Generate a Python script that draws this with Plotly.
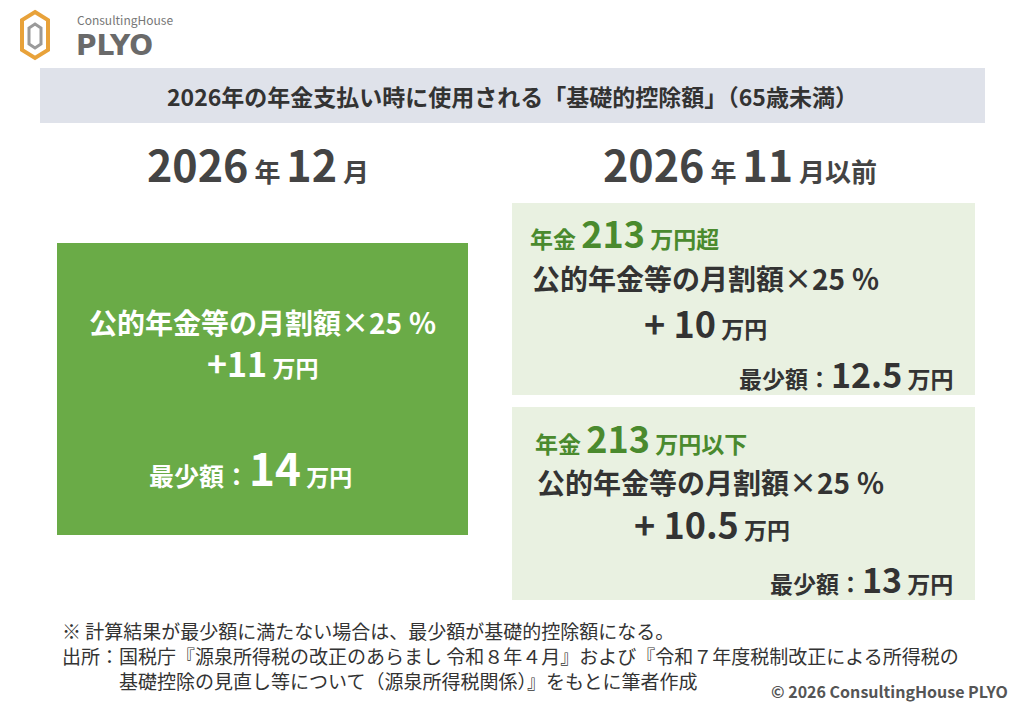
import plotly.graph_objects as go

title = "2026年の年金支払い時に使用される「基礎的控除額」（65歳未満）"
left_head = ("2026", "12")
right_head = ("2026", "11")
rate = "25"
left_add, left_min = "11", "14"
top_thr, top_add, top_min = "213", "10", "12.5"
bot_thr, bot_add, bot_min = "213", "10.5", "13"
note1 = "※ 計算結果が最少額に満たない場合は、最少額が基礎的控除額になる。"
note2 = "出所：国税庁『源泉所得税の改正のあらまし 令和８年４月』および『令和７年度税制改正による所得税の"
note3 = "基礎控除の見直し等について（源泉所得税関係）』をもとに筆者作成"
copy = "© 2026 ConsultingHouse PLYO"

F = "Noto Sans CJK JP"
DARK = "#333333"
GREEN = "#6aab47"
DGREEN = "#4a8a2e"
LBOX = "#e9f1e1"

fig = go.Figure()
shapes = [
    dict(type="rect", x0=40, x1=985, y0=68, y1=123, fillcolor="#dfe2ea", line_width=0),
    dict(type="rect", x0=57, x1=468, y0=243, y1=535, fillcolor=GREEN, line_width=0),
    dict(type="rect", x0=512, x1=975, y0=203, y1=395, fillcolor=LBOX, line_width=0),
    dict(type="rect", x0=512, x1=975, y0=407, y1=600, fillcolor=LBOX, line_width=0),
    dict(type="path", path="M35,12 L48,20 L48,50 L35,58 L22,50 L22,20 Z", fillcolor="rgba(0,0,0,0)",
         line=dict(color="#e8a23a", width=4)),
    dict(type="path", path="M35,24 L41,28 L41,44 L35,48 L29,44 L29,28 Z", fillcolor="rgba(0,0,0,0)",
         line=dict(color="#9a9a9a", width=3)),
]
anns = []
def A(x, y, t, size, color=DARK, anchor="center", align="center"):
    anns.append(dict(x=x, y=y, text=t, showarrow=False, xanchor=anchor, yanchor="middle", align=align,
                     font=dict(family=F, size=size, color=color)))
def s(t, sz): return f"<span style='font-size:{sz}px'>{t}</span>"

A(75, 19, "ConsultingHouse", 12, "#777777", "left")
anns.append(dict(x=74, y=45, text="<b>PLYO</b>", showarrow=False, xanchor="left", yanchor="middle",
                 font=dict(family="DejaVu Sans", size=28, color="#6a6a6a")))
A(512, 96, f"<b>{title}</b>", 23)
A(258, 163, f"<b>{left_head[0]}{s(' 年 ',26)}{left_head[1]}{s(' 月',26)}</b>", 43, "#444444")
A(740, 163, f"<b>{right_head[0]}{s(' 年 ',26)}{right_head[1]}{s(' 月以前',26)}</b>", 43, "#444444")

A(262, 322, f"<b>公的年金等の月割額×{rate} ％</b>", 28, "white")
A(262, 362, f"<b>+{left_add}{s(' 万円',23)}</b>", 34, "white")
A(250, 467, f"<b>{s('最少額：',25)}{left_min}{s(' 万円',23)}</b>", 44, "white")

A(528, 232, f"<b>{s('年金 ',23)}{top_thr}{s(' 万円超',23)}</b>", 36, DGREEN, "left")
A(705, 278, f"<b>公的年金等の月割額×{rate} ％</b>", 28)
A(705, 322, f"<b>+ {top_add}{s(' 万円',23)}</b>", 36)
A(955, 373, f"<b>{s('最少額：',23)}{top_min}{s(' 万円',23)}</b>", 34, DARK, "right")

A(533, 437, f"<b>{s('年金 ',23)}{bot_thr}{s(' 万円以下',23)}</b>", 36, DGREEN, "left")
A(710, 482, f"<b>公的年金等の月割額×{rate} ％</b>", 28)
A(712, 523, f"<b>+ {bot_add}{s(' 万円',23)}</b>", 36)
A(955, 578, f"<b>{s('最少額：',23)}{bot_min}{s(' 万円',23)}</b>", 34, DARK, "right")

A(60, 630, note1, 19, DARK, "left")
A(60, 668, note2 + "<br>" + "\u3000\u3000\u3000" + note3, 19, DARK, "left", "left")
A(1010, 691, f"<b>{copy}</b>", 16, "#555555", "right")

fig.update_layout(width=1024, height=711, margin=dict(l=0, r=0, t=0, b=0),
                  paper_bgcolor="white", plot_bgcolor="white", shapes=shapes, annotations=anns,
                  xaxis=dict(range=[8, 1032], visible=False),
                  yaxis=dict(range=[719, 8], visible=False), showlegend=False)
fig.write_html("out.html")
